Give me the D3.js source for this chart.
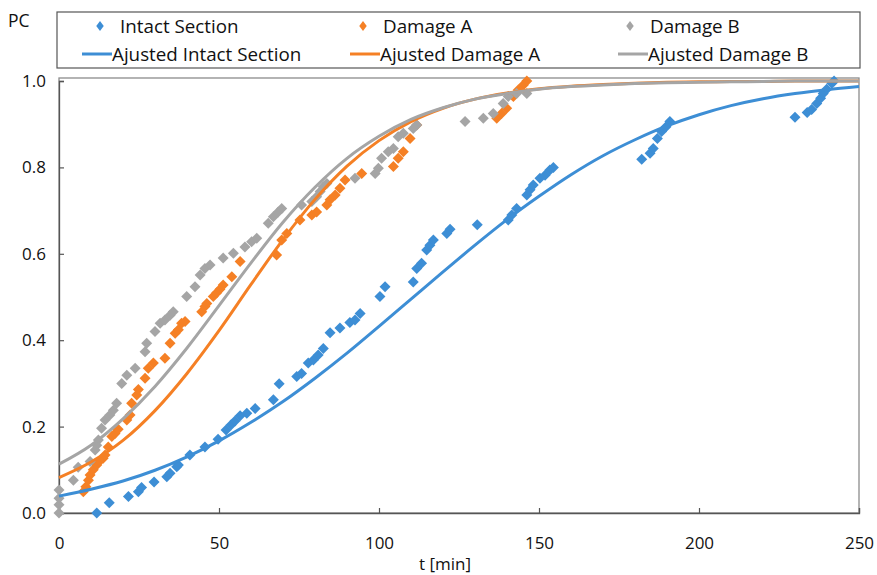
<!DOCTYPE html>
<html><head><meta charset="utf-8">
<script src="https://cdn.jsdelivr.net/npm/d3@7"></script>
<style>
html,body{margin:0;padding:0;background:#fff;}
svg text{font-family:"Open Sans",Lato,sans-serif;fill:#111;}
</style></head>
<body><svg id="c" width="877" height="575"></svg>
<script>
// ---- data ----
const seriesNames = ["Intact Section","Damage A","Damage B"];
const fitNames = ["Ajusted Intact Section","Ajusted Damage A","Ajusted Damage B"];
const colors = ["#3D8ED5","#F58025","#A5A5A5"];

const intactT = [11.8,15.7,21.7,24.8,25.8,29.7,33.7,34.7,36.8,37.3,40.9,45.6,49.7,52.2,53.8,55.0,56.6,58.7,61.3,67.0,68.8,74.3,75.8,77.9,79.5,81.0,82.6,84.7,87.8,90.9,92.5,94.1,100.3,101.9,110.7,111.8,113.3,114.9,115.9,117.0,121.2,122.2,130.7,140.4,141.5,143.0,146.2,147.2,148.2,150.3,151.9,153.4,154.5,182.1,184.7,185.7,187.0,188.3,189.7,190.9,230.0,233.8,235.2,236.8,238.0,238.8,239.9,241.5,242.2];
const intactP = [0.0,0.024,0.038,0.049,0.059,0.072,0.084,0.092,0.107,0.111,0.134,0.153,0.171,0.192,0.204,0.213,0.225,0.231,0.242,0.262,0.299,0.316,0.323,0.347,0.354,0.366,0.381,0.417,0.428,0.441,0.447,0.462,0.501,0.524,0.535,0.566,0.578,0.609,0.620,0.632,0.647,0.657,0.667,0.678,0.690,0.705,0.736,0.748,0.759,0.775,0.782,0.794,0.800,0.819,0.833,0.844,0.867,0.883,0.894,0.906,0.916,0.927,0.934,0.948,0.960,0.971,0.981,0.995,1.0];

const damageAT = [7.6,8.4,9.2,9.7,10.7,11.8,12.8,13.8,14.4,15.4,16.5,17.5,18.5,21.2,22.2,22.7,24.3,24.8,26.9,27.9,29.5,33.1,34.7,36.3,37.3,38.3,39.4,44.6,45.6,46.2,48.2,49.3,50.3,51.3,54.0,56.6,68.0,69.6,71.2,75.3,79.0,80.5,83.7,84.7,86.3,87.8,89.4,94.6,104.5,106.0,107.6,109.7,111.8,136.8,138.3,139.9,142.0,143.5,145.1,146.2];
const damageAP = [0.049,0.061,0.076,0.088,0.100,0.111,0.121,0.127,0.134,0.153,0.177,0.184,0.194,0.215,0.227,0.254,0.273,0.286,0.312,0.335,0.347,0.358,0.393,0.416,0.424,0.439,0.443,0.466,0.478,0.485,0.501,0.510,0.518,0.528,0.547,0.582,0.597,0.632,0.647,0.678,0.690,0.697,0.713,0.725,0.736,0.752,0.771,0.786,0.802,0.821,0.836,0.867,0.898,0.914,0.925,0.937,0.964,0.979,0.991,1.0];

const damageBT = [0,0,0,0,4.5,6.0,9.7,11.3,11.8,12.3,13.3,14.4,15.9,17.0,18.0,19.6,21.2,23.8,26.9,27.4,30.0,31.6,33.1,34.7,35.7,39.9,42.5,44.1,45.6,47.2,51.3,54.5,58.1,60.2,61.8,65.4,67.0,68.5,69.6,75.8,79.0,80.5,81.6,82.6,83.7,92.5,98.8,99.8,100.8,102.9,104.5,106.0,107.6,110.7,111.8,126.9,132.6,135.7,138.8,140.4,143.0,146.2];
const damageBP = [0.0,0.019,0.034,0.053,0.076,0.106,0.119,0.146,0.157,0.169,0.196,0.215,0.227,0.238,0.254,0.300,0.319,0.335,0.373,0.393,0.420,0.439,0.447,0.458,0.466,0.501,0.524,0.551,0.566,0.574,0.590,0.601,0.616,0.628,0.636,0.671,0.686,0.697,0.705,0.713,0.721,0.732,0.744,0.755,0.763,0.775,0.786,0.798,0.821,0.836,0.844,0.871,0.879,0.890,0.898,0.906,0.914,0.925,0.948,0.964,0.971,0.971];

const fitT = [0,10,20,30,40,50,60,70,80,90,100,110,120,130,140,150,160,170,180,190,200,210,220,230,240,250];
const fitIntact = [0.039,0.055,0.074,0.099,0.130,0.167,0.210,0.258,0.312,0.370,0.432,0.495,0.558,0.620,0.679,0.733,0.783,0.827,0.864,0.896,0.922,0.943,0.959,0.971,0.980,0.987];
const fitA = [0.082,0.118,0.168,0.237,0.323,0.422,0.529,0.633,0.726,0.803,0.862,0.906,0.937,0.958,0.972,0.982,0.988,0.992,0.995,0.997,0.998,0.999,0.999,1.0,1.0,1.0];
const fitB = [0.113,0.157,0.218,0.293,0.382,0.480,0.579,0.673,0.754,0.821,0.872,0.911,0.938,0.958,0.971,0.981,0.987,0.991,0.994,0.996,0.997,0.998,0.999,1.0,1.0,1.0];

const xTicks = [0,50,100,150,200,250];
const yTicks = [0,0.2,0.4,0.6,0.8,1.0];

// ---- layout ----
const svg = d3.select("#c");
const L = 59, R = 859, T = 81, B = 513;
const x = d3.scaleLinear().domain([0,250]).range([L,R]);
const y = d3.scaleLinear().domain([0,1]).range([B,T]);

// plot frame
svg.append("rect").attr("x",L).attr("y",78).attr("width",R-L).attr("height",B-78)
  .attr("fill","none").attr("stroke","#8c8c8c").attr("stroke-width",1.3);

// axes
const xAxis = d3.axisBottom(x).tickValues(xTicks).tickSize(-5).tickPadding(24).tickFormat(d3.format("d"));
const gx = svg.append("g").attr("transform",`translate(0,${B})`).call(xAxis);
const yAxis = d3.axisLeft(y).tickValues(yTicks).tickSize(-5).tickPadding(13).tickFormat(d3.format(".1f"));
const gy = svg.append("g").attr("transform",`translate(${L},0)`).call(yAxis);
[gx,gy].forEach(g=>{
  g.select(".domain").attr("stroke","#555").attr("stroke-width",1.3);
  g.selectAll(".tick line").attr("stroke","#555").attr("stroke-width",1.2);
  g.selectAll(".tick text").style("font-family","'Open Sans',Lato,sans-serif").style("font-size","17px").attr("fill","#111");
});

svg.append("text").attr("x",445).attr("y",570).attr("text-anchor","middle").style("font-size","17px").text("t [min]");
svg.append("text").attr("x",8).attr("y",27).style("font-size","17.5px").text("PC");

// markers
const diamond = r => `M0,${-r}L${r},0L0,${r}L${-r},0Z`;
const scatter = [[intactT,intactP],[damageAT,damageAP],[damageBT,damageBP]];
const plot = svg.append("g");
scatter.forEach(([ts,ps],i)=>{
  plot.append("g").selectAll("path").data(ts.map((t,j)=>[t,ps[j]])).join("path")
    .attr("d",diamond(5.5))
    .attr("transform",d=>`translate(${x(d[0])},${y(d[1])})`)
    .attr("fill",colors[i]);
});

// fitted lines
const line = d3.line().x(d=>x(d[0])).y(d=>y(d[1])).curve(d3.curveMonotoneX);
[fitIntact,fitA,fitB].forEach((vals,i)=>{
  plot.append("path").datum(fitT.map((t,j)=>[t,vals[j]]))
    .attr("d",line).attr("fill","none").attr("stroke",colors[i]).attr("stroke-width",3);
});

// legend
svg.append("rect").attr("x",57).attr("y",12).attr("width",803).attr("height",56)
  .attr("fill","#fff").attr("stroke","#555").attr("stroke-width",1.2);
const col1 = [100,363,630];
const col2 = [82,350,618];
seriesNames.forEach((n,i)=>{
  svg.append("path").attr("d",diamond(5)).attr("transform",`translate(${col1[i]},26) scale(0.75,1)`).attr("fill",colors[i]);
  svg.append("text").attr("x",col1[i]+20).attr("y",32.5).style("font-size","18.8px").text(n);
});
fitNames.forEach((n,i)=>{
  svg.append("line").attr("x1",col2[i]).attr("x2",col2[i]+30).attr("y1",54).attr("y2",54)
    .attr("stroke",colors[i]).attr("stroke-width",3);
  svg.append("text").attr("x",col2[i]+30).attr("y",60.5).style("font-size","18.8px").text(n);
});
</script></body></html>
